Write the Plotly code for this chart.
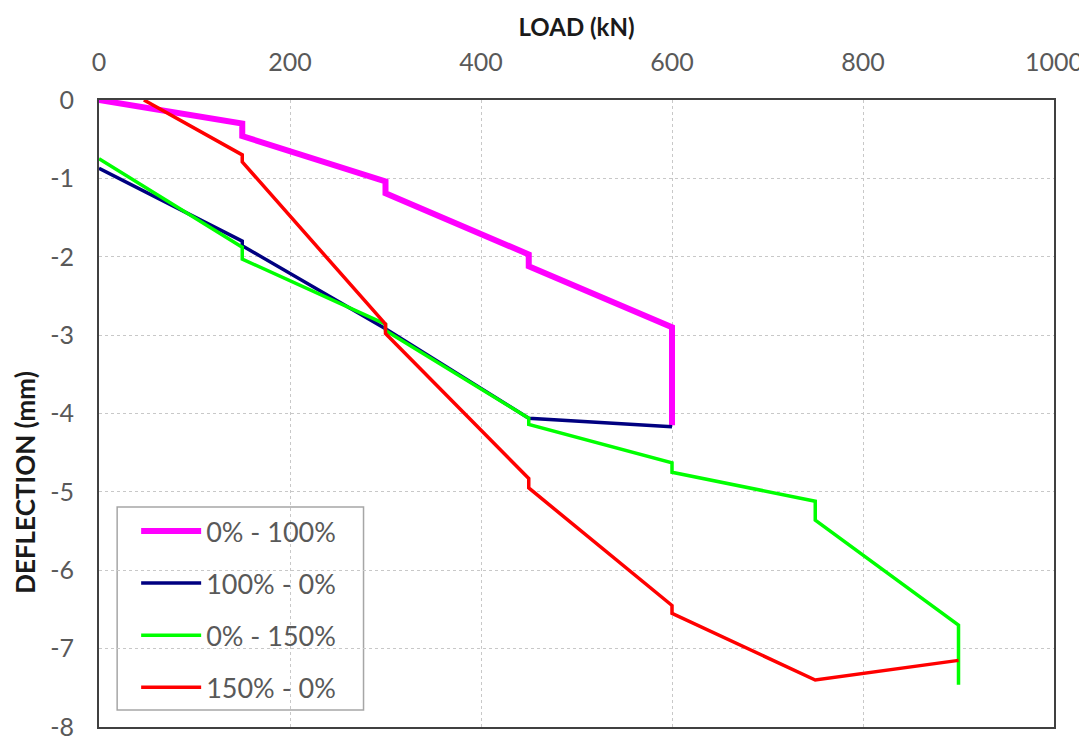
import plotly.graph_objects as go

# Data
load_0_100 = [0, 150, 150, 300, 300, 450, 450, 600, 600]
defl_0_100 = [0, -0.30, -0.46, -1.04, -1.19, -1.97, -2.12, -2.90, -4.15]

load_100_0 = [0, 150, 150, 300, 450, 600]
defl_100_0 = [-0.87, -1.80, -1.86, -2.92, -4.06, -4.17]

load_0_150 = [0, 150, 150, 300, 300, 450, 450, 600, 600, 750, 750, 900, 900]
defl_0_150 = [-0.75, -1.88, -2.03, -2.86, -2.94, -4.06, -4.14, -4.63, -4.75, -5.12, -5.36, -6.70, -7.46]

load_150_0 = [47, 150, 150, 300, 300, 450, 450, 600, 600, 750, 900]
defl_150_0 = [0, -0.70, -0.79, -2.86, -2.98, -4.83, -4.95, -6.45, -6.55, -7.40, -7.15]

series_names = ["0% - 100%", "100% - 0%", "0% - 150%", "150% - 0%"]
x_ticks = [0, 200, 400, 600, 800, 1000]
y_ticks = [0, -1, -2, -3, -4, -5, -6, -7, -8]
y_tick_labels = ["0", "-1", "-2", "-3", "-4", "-5", "-6", "-7", "-8"]

colors = ["#ff00ff", "#000080", "#00ff00", "#ff0000"]
widths = [6, 3.5, 3.5, 3.5]
xs = [load_0_100, load_100_0, load_0_150, load_150_0]
ys = [defl_0_100, defl_100_0, defl_0_150, defl_150_0]

FONT = "Lato"

fig = go.Figure()
for i in range(4):
    fig.add_trace(go.Scatter(
        x=xs[i], y=ys[i], mode="lines", name=series_names[i],
        line=dict(color=colors[i], width=widths[i]),
        legendgroup=str(i),
    ))

axis_common = dict(
    showline=True, mirror=True, linecolor="#404040", linewidth=2,
    showgrid=True, gridcolor="#c8c8c8", griddash="dot", gridwidth=1,
    zeroline=False, ticks="", automargin=False, ticklabeloverflow="allow",
    tickfont=dict(family=FONT, size=25, color="#595959"),
)

# legend frame (paper coords of the plot area)
fig.add_shape(type="rect", xref="paper", yref="paper",
              x0=0.019, x1=0.277, y0=0.027, y1=0.351,
              line=dict(color="#a6a6a6", width=1.5),
              fillcolor="white", layer="between")

# y-axis title (sits lower than the axis centre in the reference)
fig.add_annotation(text="<b>DEFLECTION (mm)</b>", xref="paper", yref="paper",
                   x=-0.0775, y=0.391, xanchor="center", yanchor="middle",
                   textangle=-90, showarrow=False,
                   font=dict(family=FONT, size=26, color="#1a1a1a"))

fig.update_layout(
    width=1079, height=730,
    margin=dict(l=91, r=33, t=92, b=11),
    paper_bgcolor="white", plot_bgcolor="white",
    font=dict(family=FONT),
    xaxis=dict(
        range=[0, 1000], tickvals=x_ticks, side="top",
        title=dict(text="<b>LOAD (kN)</b>", font=dict(family=FONT, size=24, color="#1a1a1a"), standoff=3),
        ticklabelstandoff=17,
        **axis_common,
    ),
    yaxis=dict(
        range=[-8, 0], tickvals=y_ticks, ticktext=y_tick_labels,
        ticklabelstandoff=18,
        **axis_common,
    ),
    legend=dict(
        x=0.019, y=0.351, xanchor="left", yanchor="top",
        bgcolor="rgba(0,0,0,0)", borderwidth=0,
        font=dict(family=FONT, size=27, color="#595959"),
        tracegroupgap=14, itemwidth=60, indentation=19,
    ),
    showlegend=True,
)

fig.write_html("out.html")
